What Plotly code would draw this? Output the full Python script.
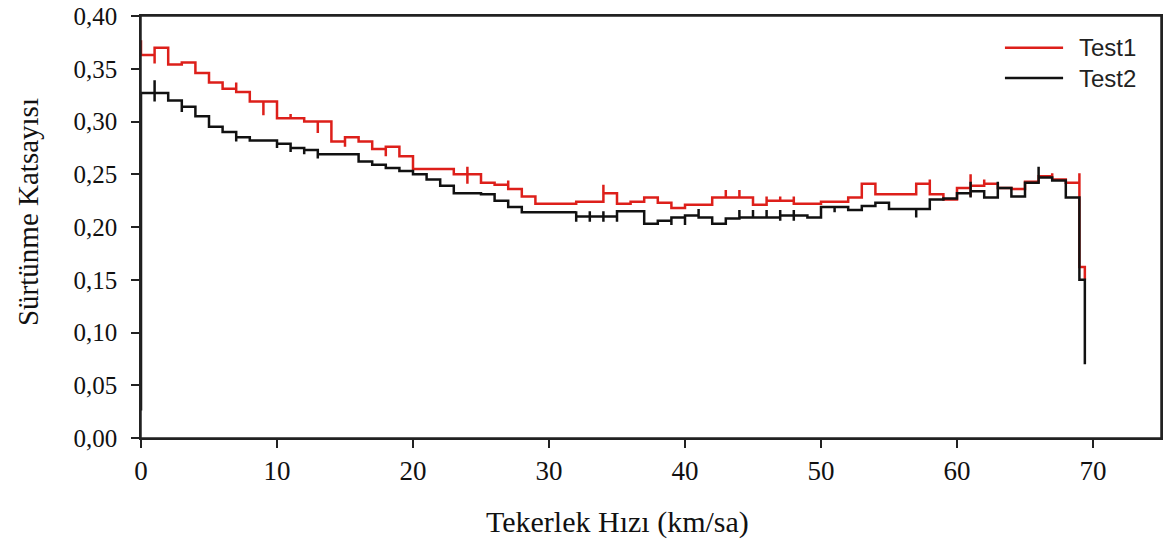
import plotly.graph_objects as go

# Friction coefficient measured in 1 km/sa speed steps (step k covers k .. k+1)
speed_bins = list(range(0, 70))

test1_cof = [
    0.363, 0.370, 0.354, 0.356, 0.346, 0.337, 0.331, 0.328, 0.319, 0.319,
    0.303, 0.303, 0.300, 0.300, 0.281, 0.285, 0.281, 0.274, 0.276, 0.267,
    0.255, 0.255, 0.255, 0.250, 0.250, 0.242, 0.240, 0.236, 0.229, 0.222,
    0.222, 0.222, 0.224, 0.224, 0.232, 0.222, 0.224, 0.228, 0.223, 0.218,
    0.221, 0.221, 0.228, 0.228, 0.228, 0.221, 0.225, 0.225, 0.222, 0.222,
    0.224, 0.224, 0.228, 0.241, 0.231, 0.231, 0.231, 0.241, 0.231, 0.226,
    0.237, 0.239, 0.241, 0.237, 0.236, 0.243, 0.248, 0.245, 0.242, 0.162,
]

test2_cof = [
    0.327, 0.327, 0.320, 0.314, 0.305, 0.295, 0.290, 0.285, 0.282, 0.282,
    0.279, 0.275, 0.273, 0.269, 0.269, 0.269, 0.262, 0.259, 0.256, 0.253,
    0.250, 0.245, 0.239, 0.232, 0.232, 0.231, 0.225, 0.219, 0.214, 0.214,
    0.214, 0.214, 0.210, 0.210, 0.210, 0.215, 0.215, 0.203, 0.206, 0.209,
    0.211, 0.209, 0.203, 0.208, 0.209, 0.209, 0.209, 0.211, 0.211, 0.209,
    0.219, 0.219, 0.216, 0.220, 0.223, 0.217, 0.217, 0.217, 0.226, 0.227,
    0.232, 0.234, 0.228, 0.237, 0.229, 0.242, 0.247, 0.244, 0.228, 0.150,
]

# First reading at 0 km/sa and last reading when the wheel stops
test1_start, test2_start = 0.377, 0.026
end_speed = 69.4
test1_end, test2_end = 0.150, 0.070

# Momentary peaks recorded at step changes: speed -> extreme readings
test1_spikes = {
    1: [0.355], 7: [0.337], 9: [0.306], 11: [0.307], 13: [0.289],
    15: [0.276], 18: [0.267], 24: [0.257, 0.241], 27: [0.244], 34: [0.240],
    43: [0.235], 44: [0.235], 46: [0.229], 47: [0.229], 48: [0.229],
    58: [0.245], 61: [0.250, 0.229], 62: [0.245], 67: [0.251], 69: [0.251],
}
test2_spikes = {
    1: [0.339, 0.319], 3: [0.309], 7: [0.281], 10: [0.275], 11: [0.271],
    12: [0.269], 13: [0.265], 32: [0.215, 0.205], 33: [0.215, 0.205],
    34: [0.215, 0.205], 35: [0.205], 39: [0.202], 40: [0.202], 41: [0.217],
    44: [0.216], 45: [0.216], 46: [0.216], 47: [0.216, 0.206],
    48: [0.216, 0.206], 51: [0.214], 57: [0.209], 61: [0.243, 0.228],
    63: [0.243, 0.228], 66: [0.257],
}

x_ticks = [0, 10, 20, 30, 40, 50, 60, 70]
y_ticks = [0.00, 0.05, 0.10, 0.15, 0.20, 0.25, 0.30, 0.35, 0.40]

series_names = ["Test1", "Test2"]
series_colors = ["#dd1f1a", "#111111"]


def step_series(start, values, spikes, end_value):
    xs, ys = [speed_bins[0]], [start]
    for k, v in zip(speed_bins, values):
        for s in spikes.get(k, []):
            xs.append(k)
            ys.append(s)
        xs.append(k)
        ys.append(v)
    xs.append(end_speed)
    ys.append(end_value)
    return xs, ys


x1, y1 = step_series(test1_start, test1_cof, test1_spikes, test1_end)
x2, y2 = step_series(test2_start, test2_cof, test2_spikes, test2_end)

fig = go.Figure()
for name, color, xs, ys in zip(series_names, series_colors, [x1, x2], [y1, y2]):
    fig.add_trace(go.Scatter(x=xs, y=ys, mode="lines", name=name,
                             line=dict(color=color, width=2.5, shape="hv"),
                             showlegend=False))

serif = "Liberation Serif, Times New Roman, serif"
sans = "Liberation Sans, Arial, sans-serif"
axis_common = dict(
    showline=True, linecolor="#222222", linewidth=1.5, mirror=True,
    ticks="outside", ticklen=8, tickwidth=1.5, tickcolor="#222222",
    showgrid=False, zeroline=False, ticklabeloverflow="allow",
    automargin=False,
)

# Plot frame
shapes = [dict(type="rect", xref="paper", yref="paper", x0=0, x1=1, y0=0, y1=1,
               line=dict(color="#222222", width=1.5), layer="above")]

# Legend drawn as line samples with labels in the upper right corner
legend_rows = [0.925, 0.853]
annotations = []
for name, color, yrow in zip(series_names, series_colors, legend_rows):
    shapes.append(dict(type="line", xref="paper", yref="paper",
                       x0=0.847, x1=0.904, y0=yrow, y1=yrow,
                       line=dict(color=color, width=2.5)))
    annotations.append(dict(text=name, xref="paper", yref="paper",
                            x=0.918, y=yrow, xanchor="left", yanchor="middle",
                            showarrow=False,
                            font=dict(family=sans, size=24, color="#222222")))

# Axis titles
annotations.append(dict(text="Tekerlek Hızı (km/sa)", xref="paper", yref="paper",
                        x=0.4676, y=-0.199, xanchor="center", yanchor="middle",
                        showarrow=False,
                        font=dict(family=serif, size=30, color="#111111")))
annotations.append(dict(text="Sürtünme Katsayısı", xref="paper", yref="paper",
                        x=-0.111, y=0.535, xanchor="center", yanchor="middle",
                        textangle=-90, showarrow=False,
                        font=dict(family=serif, size=29, color="#111111")))

fig.update_layout(
    width=1170, height=548,
    margin=dict(l=141, r=9, t=16, b=110),
    paper_bgcolor="white", plot_bgcolor="white",
    separators=",.",
    xaxis=dict(range=[0, 75], tickvals=x_ticks,
               tickfont=dict(family=serif, size=27, color="#111111"),
               **axis_common),
    yaxis=dict(range=[0, 0.40], tickvals=y_ticks, tickformat=".2f",
               ticklabelstandoff=9,
               tickfont=dict(family=serif, size=25, color="#111111"),
               **axis_common),
    shapes=shapes,
    annotations=annotations,
    showlegend=False,
)

fig.write_html("out.html")
